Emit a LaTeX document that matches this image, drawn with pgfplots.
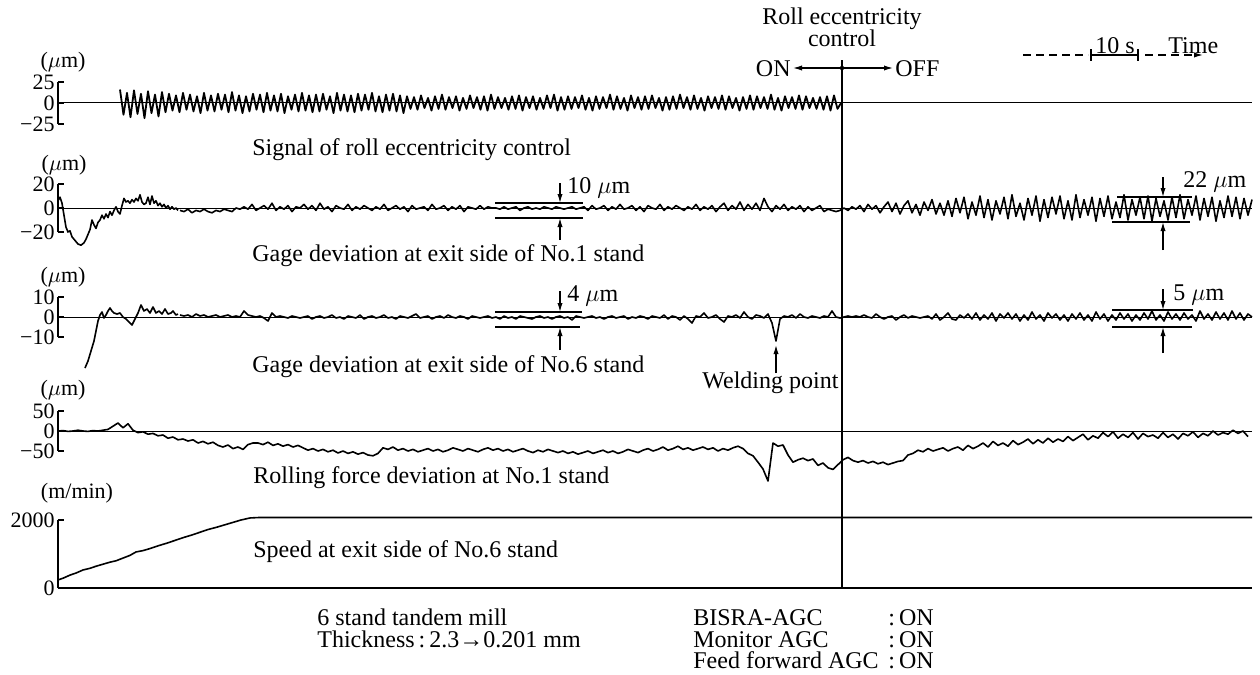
\documentclass[border=0pt]{standalone}
\usepackage{pgfplots}
\pgfplotsset{compat=1.18}
\usepackage{pgfplotstable}
\usepackage{fontspec}
\setmainfont{Liberation Serif}
\usetikzlibrary{arrows.meta}

% Panel 1: signal of roll eccentricity control (sampled every 3.5 px from x=120)
\pgfplotstableread[header=false,row sep=\\]{
16\\-14\\12\\-17\\15\\-13\\11\\-18\\14\\-12\\10\\-16\\13\\-11\\
11\\-9\\9\\-11\\12\\-8\\10\\-10\\8\\-12\\12\\-9\\9\\-10\\11\\-8\\10\\-11\\13\\-9\\
9\\-12\\8\\-10\\11\\-8\\10\\-11\\12\\-9\\9\\-10\\11\\-12\\8\\-8\\10\\-10\\12\\-9\\
9\\-11\\10\\-10\\11\\-8\\8\\-12\\12\\-9\\10\\-10\\9\\-11\\11\\-9\\10\\-8\\12\\-10\\
8\\-11\\10\\-9\\11\\-10\\9\\-12\\
8\\-7\\7\\-8\\9\\-6\\6\\-9\\8\\-7\\10\\-8\\7\\-6\\8\\-9\\6\\-7\\9\\-6\\
7\\-8\\8\\-9\\10\\-7\\7\\-6\\6\\-8\\8\\-7\\9\\-9\\7\\-6\\8\\-8\\6\\-7\\
9\\-6\\10\\-9\\7\\-8\\8\\-7\\7\\-6\\9\\-8\\6\\-9\\8\\-7\\7\\-6\\10\\-8\\
8\\-7\\6\\-9\\9\\-6\\7\\-8\\8\\-7\\9\\-6\\6\\-9\\7\\-8\\8\\-7\\10\\-6\\
7\\-8\\9\\-7\\6\\-9\\8\\-6\\7\\-7\\9\\-8\\8\\-6\\6\\-9\\7\\-7\\9\\-8\\
8\\-6\\7\\-7\\10\\-8\\6\\-9\\8\\-6\\7\\-7\\9\\-8\\8\\-6\\6\\-7\\7\\-8\\
8\\-9\\9\\-7\\0\\
}\ecctab

% Panel 2: gage deviation No.1 stand (sampled every 4 px from x=180)
\pgfplotstableread[header=false,row sep=\\]{
-2\\-3\\-1\\-4\\-2\\-3\\-1\\-3\\-4\\-2\\-3\\-1\\-2\\-3\\0\\-1\\
1\\-1\\3\\-2\\0\\2\\-1\\4\\-2\\1\\-1\\2\\-3\\1\\0\\3\\-1\\2\\-2\\4\\
-1\\1\\-3\\2\\0\\-1\\3\\-2\\1\\-1\\2\\0\\-2\\1\\-1\\3\\-2\\0\\2\\-1\\
1\\-3\\2\\-1\\0\\1\\-2\\3\\-1\\0\\2\\-2\\1\\-1\\2\\-3\\1\\0\\-1\\2\\-1\\1\\0\\
0\\-1\\1\\-1\\0\\1\\-2\\0\\1\\-1\\0\\-1\\1\\0\\-1\\1\\0\\-1\\0\\1\\-1\\0\\
1\\-2\\2\\-1\\0\\2\\-2\\1\\-1\\3\\-1\\0\\2\\-2\\1\\-3\\2\\0\\-1\\3\\
-2\\1\\-1\\2\\0\\-2\\1\\-1\\3\\-2\\1\\-1\\2\\-3\\1\\4\\-2\\2\\-1\\5\\
-2\\3\\-1\\4\\-2\\8\\1\\-3\\2\\-1\\3\\-2\\1\\-1\\2\\-3\\1\\-2\\0\\2\\
-3\\-1\\-2\\-3\\-2\\
0\\-2\\1\\-1\\2\\-3\\3\\-1\\2\\-4\\1\\5\\-3\\4\\-5\\2\\6\\-4\\3\\-6\\5\\-2\\7\\-5\\4\\-6\\6\\
-7\\8\\-4\\9\\-9\\5\\-6\\10\\-8\\7\\-10\\6\\-5\\9\\-9\\11\\-7\\4\\-10\\8\\
-6\\10\\-11\\7\\-8\\9\\-5\\10\\-9\\6\\-10\\11\\-8\\7\\-6\\9\\-11\\8\\-7\\10\\
-9\\5\\-8\\11\\-10\\7\\-6\\9\\-9\\10\\-11\\8\\-7\\6\\-10\\9\\-8\\11\\-9\\7\\
-6\\10\\-10\\8\\-7\\9\\-11\\6\\-8\\10\\-7\\9\\-9\\8\\-6\\7\\
}\gageonetab

% Panel 3: gage deviation No.6 stand (sampled every 4 px from x=180)
\pgfplotstableread[header=false,row sep=\\]{
1\\0.5\\1\\0\\1.5\\0.5\\1\\0\\0.5\\1\\
0\\0.5\\1\\0\\0.5\\0\\3\\1\\0.5\\0\\
0.5\\-0.5\\-2\\2\\0\\0.5\\0\\-0.5\\0.5\\0\\
-0.5\\0\\0.5\\-1\\0\\0.5\\-0.5\\0\\1\\-0.5\\
0\\-1\\0.5\\0\\-0.5\\1\\-1\\0\\0.5\\-0.5\\
0\\1\\-0.5\\0\\-1\\0.5\\0\\-0.5\\0.5\\1.5\\
-0.5\\0\\0.5\\-1\\0\\0.5\\-0.5\\1\\0\\-0.5\\
0.5\\0\\-1\\0.5\\0\\-0.5\\0\\0.5\\-0.5\\0\\
-1\\0.5\\-0.5\\0\\-1\\0.5\\0\\-0.5\\-1\\0\\
0.5\\-0.5\\0\\-1\\0\\0.5\\-0.5\\0\\-1.5\\0.5\\
0\\-0.5\\0\\0.5\\-0.5\\0\\-1\\0\\0.5\\-0.5\\
0\\0.5\\-1\\0\\-0.5\\0.5\\0\\-1\\0.5\\0\\
-0.5\\1\\-1\\0.5\\0\\-1.5\\0.5\\-1\\-3\\0.5\\
0\\2\\-0.5\\0\\1\\-1\\-2.5\\0.5\\0\\1\\
-0.5\\2.5\\0\\-1\\1\\0.5\\-0.5\\1.5\\-3\\-12\\
-1\\0.5\\0\\1\\-0.5\\1.5\\0\\-0.5\\0.5\\0\\
-0.5\\0.5\\0\\3\\0\\-0.5\\0\\0.5\\0\\0.5\\
0\\1\\0\\-0.5\\1.5\\0\\-1\\0\\0.5\\-1.5\\
0\\1\\-0.5\\0.5\\0\\-0.5\\0\\0.5\\-1\\1.5\\
-1.5\\0\\2\\-1\\-1.5\\1\\-0.5\\1.5\\-1\\2\\
-1.5\\1\\-1\\2\\-2\\1.5\\-0.5\\2\\-1\\1.5\\
-2\\1\\-1.5\\2.5\\-1\\1\\-2\\2\\-0.5\\1.5\\
-1.5\\1\\-2\\1.5\\-1\\2\\-1.5\\1\\-2\\2.5\\
-1\\1.5\\-2\\1\\-1.5\\2\\-1\\1.5\\-2\\1\\
-1.5\\2\\-1\\3\\-1.5\\1\\-2\\2.5\\-1\\1.5\\
-1.5\\2\\-1\\1\\-2\\3\\-1\\1.5\\-1.5\\2.5\\
-1\\2\\-1.5\\3\\-1\\2\\-1.5\\1.5\\0\\
}\gagesixtab

% Panel 4: rolling force deviation No.1 stand (sampled every 5 px from x=58)
\pgfplotstableread[header=false,row sep=\\]{
0\\1\\-1\\0\\2\\0\\-1\\1\\0\\2\\
4\\12\\20\\8\\18\\2\\-4\\-2\\-8\\-6\\
-12\\-10\\-18\\-15\\-22\\-20\\-25\\-22\\-30\\-26\\
-32\\-28\\-36\\-40\\-35\\-44\\-40\\-46\\-34\\-30\\
-30\\-34\\-28\\-36\\-32\\-38\\-34\\-40\\-36\\-42\\
-48\\-44\\-50\\-46\\-52\\-48\\-55\\-50\\-56\\-52\\
-58\\-54\\-60\\-62\\-56\\-42\\-46\\-40\\-48\\-44\\
-50\\-46\\-52\\-48\\-44\\-50\\-46\\-52\\-48\\-42\\
-46\\-50\\-44\\-48\\-52\\-46\\-42\\-48\\-44\\-50\\
-46\\-52\\-48\\-44\\-50\\-54\\-48\\-52\\-46\\-50\\
-54\\-50\\-56\\-52\\-58\\-54\\-50\\-56\\-52\\-48\\
-54\\-50\\-56\\-52\\-46\\-50\\-54\\-48\\-44\\-50\\
-46\\-40\\-48\\-44\\-38\\-46\\-42\\-48\\-44\\-40\\
-46\\-42\\-50\\-44\\-48\\-42\\-38\\-44\\-56\\-62\\
-78\\-95\\-125\\-30\\-38\\-35\\-60\\-78\\-72\\-68\\
-74\\-70\\-86\\-80\\-92\\-96\\-84\\-72\\-66\\-74\\
-78\\-74\\-80\\-76\\-82\\-78\\-84\\-80\\-76\\-74\\
-60\\-56\\-48\\-52\\-44\\-50\\-46\\-42\\-50\\-44\\
-40\\-48\\-36\\-44\\-38\\-30\\-40\\-26\\-36\\-30\\
-38\\-24\\-34\\-28\\-20\\-32\\-22\\-30\\-18\\-28\\
-20\\-26\\-14\\-24\\-16\\-8\\-22\\-12\\-18\\-4\\
-14\\-2\\-18\\-8\\-16\\-4\\-20\\-6\\-14\\-10\\
-18\\-4\\-16\\-8\\-20\\-6\\-12\\-2\\-16\\-6\\
-12\\0\\-10\\-4\\-8\\2\\-6\\0\\-14\\
}\forcetab

\pgfplotsset{panel/.style={
  scale only axis, width=597pt, xmin=58, xmax=1252,
  axis x line=none, axis y line*=left, xtick=\empty,
  axis line style={line width=0.6pt, black},
  tick align=inside, major tick length=3pt,
  major tick style={line width=0.6pt, black},
  clip=false,
  yticklabel style={font=\fontsize{11}{11}\selectfont, inner sep=1.5pt},
  cycle list={{black, line width=0.7pt, mark=none}},
},
trace/.style={black, line width=0.8pt, mark=none, line join=round},
zero/.style={black, line width=0.5pt, mark=none}}

\begin{document}
\begin{tikzpicture}
\path[use as bounding box] (0pt,0pt) rectangle (630pt,-337.5pt);

% Panel 1
\begin{axis}[panel, at={(29pt,-62pt)}, anchor=south west, height=21pt,
  ymin=-25, ymax=25, ytick={-25,0,25}, yticklabels={−25,0,25}]
  \addplot[zero] coordinates {(58,0) (1252,0)};
  \addplot[trace, line width=0.9pt] table[x expr={120+3.5*\coordindex}, y index=0] {\ecctab};
\end{axis}

% Panel 2
\begin{axis}[panel, at={(29pt,-116pt)}, anchor=south west, height=24pt,
  ymin=-20, ymax=20, ytick={-20,0,20}, yticklabels={−20,0,20}]
  \addplot[zero] coordinates {(58,0) (1252,0)};
  \addplot[trace] coordinates {(58,6) (60,9) (62,4) (64,-6) (66,-16) (68,-20) (70,-19) (72,-24)
   (75,-27) (78,-30) (81,-31) (84,-29) (86,-26) (88,-22) (90,-18) (92,-10) (94,-14)
   (96,-17) (98,-12) (100,-10) (102,-6) (104,-9) (106,-5) (108,-8) (110,-3) (112,-6)
   (114,-2) (116,1) (118,-3) (120,-5) (122,2) (124,8) (126,5) (128,6) (130,4) (132,7)
   (134,5) (136,8) (138,6) (140,11) (142,5) (144,3) (146,4) (148,9) (150,3) (152,10)
   (154,4) (156,6) (158,2) (160,4) (162,1) (164,3) (166,0) (168,2) (170,-1) (172,1)
   (174,-1) (176,0) (178,-2)};
  \addplot[trace] table[x expr={180+4*\coordindex}, y index=0] {\gageonetab};
\end{axis}

% Panel 3
\begin{axis}[panel, at={(29pt,-168.5pt)}, anchor=south west, height=20pt,
  ymin=-10, ymax=10, ytick={-10,0,10}, yticklabels={−10,0,10}]
  \addplot[zero] coordinates {(58,0) (1252,0)};
  \addplot[trace] coordinates {(85,-25.5) (88,-22) (91,-17) (94,-12) (96,-7) (98,-2) (100,1)
   (102,2.5) (104,-0.5) (106,1) (108,3) (110,4.5) (112,3) (114,2) (117,1.5) (120,2)
   (123,0) (126,-1) (129,-2.5) (132,-4) (135,-1) (138,2) (141,6) (144,3) (147,4)
   (150,2) (153,5) (156,2) (159,3) (162,1.5) (165,4) (168,1.5) (171,2) (173,3)
   (176,1) (178,1.5)};
  \addplot[trace] table[x expr={180+4*\coordindex}, y index=0] {\gagesixtab};
\end{axis}

% Panel 4
\begin{axis}[panel, at={(29pt,-225.5pt)}, anchor=south west, height=20pt,
  ymin=-50, ymax=50, ytick={-50,0,50}, yticklabels={−50,0,50}]
  \addplot[zero] coordinates {(58,0) (1252,0)};
  \addplot[trace] table[x expr={58+5*\coordindex}, y index=0] {\forcetab};
\end{axis}

% Panel 5
\begin{axis}[panel, at={(29pt,-294pt)}, anchor=south west, height=34pt,
  ymin=0, ymax=2000, ytick={0,2000}, yticklabels={0,2000}]
  \addplot[zero, line width=0.6pt] coordinates {(58,0) (1252,0)};
  \addplot[trace] coordinates {(58,235) (64,300) (70,380) (76,440) (83,530) (90,580) (96,640)
   (103,700) (110,760) (116,800) (123,880) (130,960) (136,1060) (143,1100) (150,1160)
   (158,1240) (167,1320) (175,1400) (183,1480) (192,1560) (200,1640) (208,1720)
   (217,1790) (225,1860) (233,1930) (241,2000) (250,2060) (260,2075) (1252,2075)};
\end{axis}

% Annotations in pixel coordinates
\begin{scope}[x=0.5pt,y=-0.5pt,font=\fontsize{12}{12}\selectfont,
  arr/.style={-{Latex[length=4.5pt,width=2.6pt]}, line width=0.6pt}]
  % vertical switching line
  \draw[line width=0.7pt] (842,60) -- (842,588);
  \fill (842,68) circle (2.2);
  \draw[arr] (842,68) -- (793,68);
  \draw[arr] (842,68) -- (893,68);
  \node[anchor=base east, inner sep=0] at (791,76) {ON};
  \node[anchor=base west, inner sep=0] at (895,76) {OFF};
  \node[anchor=base, inner sep=0] at (842,24) {Roll eccentricity};
  \node[anchor=base, inner sep=0] at (842,46) {control};
  % time scale
  \draw[line width=0.7pt, dash pattern=on 4pt off 2.5pt] (1023,55) -- (1088,55);
  \draw[line width=0.6pt] (1091,49) -- (1091,61) (1091,55) -- (1138,55) (1138,49) -- (1138,61);
  \draw[arr, dash pattern=on 4pt off 2.5pt] (1145,55) -- (1203,55);
  \node[anchor=base, inner sep=0] at (1115,53) {10 s};
  \node[anchor=base west, inner sep=0] at (1168,53) {Time};
  % unit labels
  \begin{scope}[font=\fontsize{11}{11}\selectfont]
  \node[anchor=base, inner sep=0] at (63,67) {($\mu$m)};
  \node[anchor=base, inner sep=0] at (64,170) {($\mu$m)};
  \node[anchor=base, inner sep=0] at (63,282) {($\mu$m)};
  \node[anchor=base, inner sep=0] at (63,395) {($\mu$m)};
  \node[anchor=base, inner sep=0] at (77,498) {(m/min)};
  \end{scope}
  % panel titles
  \node[anchor=base west, inner sep=0] at (252,155) {Signal of roll eccentricity control};
  \node[anchor=base west, inner sep=0] at (252,261) {Gage deviation at exit side of No.1 stand};
  \node[anchor=base west, inner sep=0] at (252,372) {Gage deviation at exit side of No.6 stand};
  \node[anchor=base west, inner sep=0] at (253,483) {Rolling force deviation at No.1 stand};
  \node[anchor=base west, inner sep=0] at (253,557) {Speed at exit side of No.6 stand};
  % 10 um
  \draw[line width=0.6pt] (495,203) -- (583,203) (495,218) -- (583,218);
  \draw[arr] (560,183) -- (560,203);
  \draw[arr] (560,240) -- (560,218);
  \node[anchor=base west, inner sep=0] at (567,193) {10 $\mu$m};
  % 22 um
  \draw[line width=0.6pt] (1117,197) -- (1192,197) (1112,222) -- (1190,222);
  \draw[arr] (1163,177) -- (1163,197);
  \draw[arr] (1163,250) -- (1163,222);
  \node[anchor=base west, inner sep=0] at (1183,187) {22 $\mu$m};
  % 4 um
  \draw[line width=0.6pt] (495,312) -- (582,312) (495,327) -- (580,327);
  \draw[arr] (560,291) -- (560,312);
  \draw[arr] (560,350) -- (560,327);
  \node[anchor=base west, inner sep=0] at (567,301) {4 $\mu$m};
  % 5 um
  \draw[line width=0.6pt] (1112,310) -- (1193,310) (1112,327) -- (1192,327);
  \draw[arr] (1163,289) -- (1163,310);
  \draw[arr] (1163,353) -- (1163,327);
  \node[anchor=base west, inner sep=0] at (1173,300) {5 $\mu$m};
  % welding point
  \draw[arr] (776,373) -- (776,345);
  \node[anchor=base west, inner sep=0] at (702,388) {Welding point};
  % bottom notes
  \node[anchor=base west, inner sep=0] at (317,625) {6 stand tandem mill};
  \node[anchor=base west, inner sep=0] at (317,647) {Thickness\,:\,2.3→0.201 mm};
  \node[anchor=base west, inner sep=0] at (693,625) {BISRA-AGC};
  \node[anchor=base west, inner sep=0] at (693,647) {Monitor AGC};
  \node[anchor=base west, inner sep=0] at (693,668) {Feed forward AGC};
  \node[anchor=base west, inner sep=0] at (888,625) {:\,ON};
  \node[anchor=base west, inner sep=0] at (888,647) {:\,ON};
  \node[anchor=base west, inner sep=0] at (888,668) {:\,ON};
\end{scope}
\end{tikzpicture}
\end{document}
